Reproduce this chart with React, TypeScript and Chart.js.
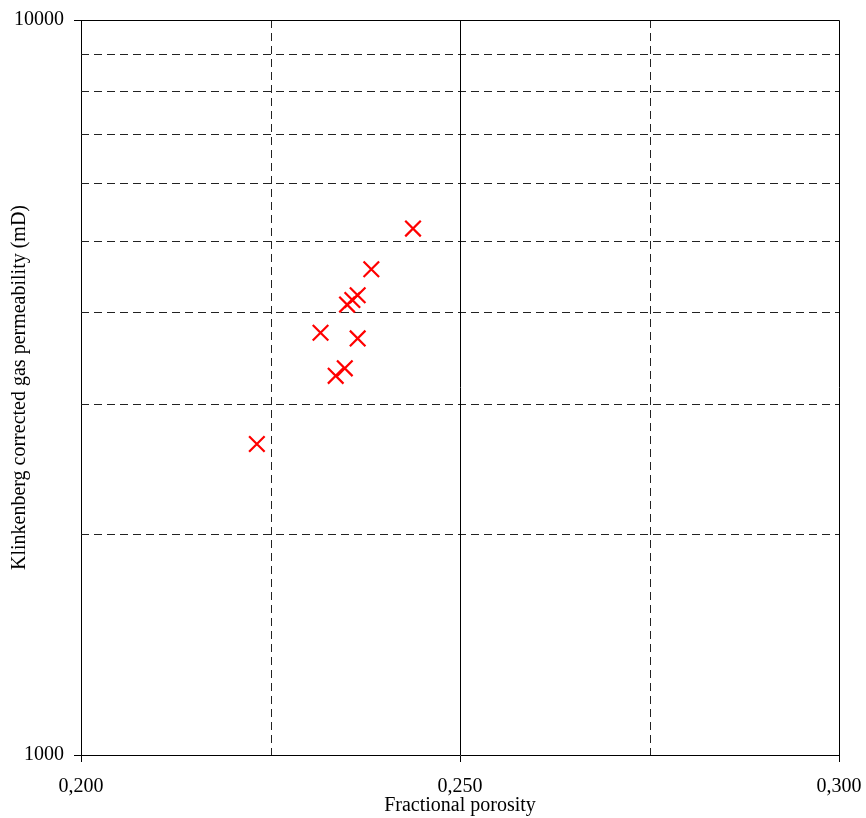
import React, { useEffect, useRef } from "react";
import { Chart, registerables } from "chart.js";

Chart.register(...registerables);

const POROSITY = [0.2232, 0.2316, 0.2336, 0.2348, 0.2351, 0.2358, 0.2365, 0.2365, 0.2383, 0.2438];
const PERMEABILITY = [2649, 3754, 3280, 3358, 4100, 4160, 4222, 3688, 4580, 5202];

const X_TICKS = [0.2, 0.25, 0.3];
const Y_TICKS = [1000, 10000];
const X_DASHED_GRID = [0.225, 0.275];
const X_SOLID_GRID = [0.25];
const Y_DASHED_GRID = [2000, 3000, 4000, 5000, 6000, 7000, 8000, 9000];

const X_TITLE = "Fractional porosity";
const Y_TITLE = "Klinkenberg corrected gas permeability (mD)";

const FONT = "'Liberation Serif', 'Times New Roman', serif";

const gridPlugin = {
  id: "customGrid",
  beforeDatasetsDraw(chart: any) {
    const { ctx, chartArea, scales } = chart;
    const xs = scales.x;
    const ys = scales.y;
    const al = (v: number) => Math.round(v) + 0.5;
    ctx.save();
    ctx.lineWidth = 1;
    ctx.strokeStyle = "#222";
    ctx.setLineDash([8, 5]);
    for (const v of Y_DASHED_GRID) {
      const y = al(ys.getPixelForValue(v));
      ctx.beginPath();
      ctx.moveTo(chartArea.left, y);
      ctx.lineTo(chartArea.right, y);
      ctx.stroke();
    }
    for (const v of X_DASHED_GRID) {
      const x = al(xs.getPixelForValue(v));
      ctx.beginPath();
      ctx.moveTo(x, chartArea.top);
      ctx.lineTo(x, chartArea.bottom);
      ctx.stroke();
    }
    ctx.setLineDash([]);
    ctx.strokeStyle = "#000";
    for (const v of X_SOLID_GRID) {
      const x = al(xs.getPixelForValue(v));
      ctx.beginPath();
      ctx.moveTo(x, chartArea.top);
      ctx.lineTo(x, chartArea.bottom);
      ctx.stroke();
    }
    // top and right border
    const top = al(ys.getPixelForValue(10000));
    const right = al(xs.getPixelForValue(0.3));
    ctx.beginPath();
    ctx.moveTo(chartArea.left, top);
    ctx.lineTo(right, top);
    ctx.lineTo(right, chartArea.bottom);
    ctx.stroke();
    ctx.restore();
  },
};

export default function App() {
  const ref = useRef<HTMLCanvasElement | null>(null);
  useEffect(() => {
    if (!ref.current) return;
    const chart = new Chart(ref.current, {
      type: "scatter",
      data: {
        datasets: [
          {
            data: POROSITY.map((x, i) => ({ x, y: PERMEABILITY[i] })),
            pointStyle: "crossRot",
            pointRadius: 11,
            pointBorderWidth: 2.2,
            borderColor: "#ff0000",
            backgroundColor: "#ff0000",
          },
        ],
      },
      options: {
        animation: false,
        responsive: false,
        maintainAspectRatio: false,
        layout: { padding: { left: 0, top: 20, right: 27, bottom: 0 } },
        plugins: { legend: { display: false }, tooltip: { enabled: false } },
        scales: {
          x: {
            type: "linear",
            min: 0.2,
            max: 0.3,
            afterBuildTicks: (s: any) => {
              s.ticks = X_TICKS.map((v) => ({ value: v }));
            },
            afterFit: (s: any) => {
              s.height = 63;
              s.paddingLeft = 0;
              s.paddingRight = 0;
            },
            ticks: {
              color: "#000",
              font: { family: FONT, size: 20 },
              padding: 13,
              maxRotation: 0,
              callback: (v: any) => Number(v).toFixed(3).replace(".", ","),
            },
            grid: { drawOnChartArea: false, drawTicks: true, tickLength: 7, color: "#000" },
            border: { display: true, color: "#000", width: 1 },
            title: {
              display: true,
              text: X_TITLE,
              color: "#000",
              font: { family: FONT, size: 20 },
              padding: { top: 0, bottom: 0 },
            },
          },
          y: {
            type: "logarithmic",
            min: 1000,
            max: 10000,
            afterBuildTicks: (s: any) => {
              s.ticks = Y_TICKS.map((v) => ({ value: v }));
            },
            afterFit: (s: any) => {
              s.width = 81;
              s.paddingTop = 0;
              s.paddingBottom = 0;
            },
            ticks: {
              color: "#000",
              font: { family: FONT, size: 20 },
              padding: 10,
              callback: (v: any) => String(v),
            },
            grid: { drawOnChartArea: false, drawTicks: true, tickLength: 7, color: "#000" },
            border: { display: true, color: "#000", width: 1 },
            title: {
              display: true,
              text: Y_TITLE,
              color: "#000",
              font: { family: FONT, size: 20 },
              padding: { top: 8, bottom: 0 },
            },
          },
        },
      },
      plugins: [gridPlugin],
    });
    return () => chart.destroy();
  }, []);
  return (
    <div style={{ position: "absolute", left: 0, top: 0, width: 866, height: 818, background: "#fff" }}>
      <canvas ref={ref} width={866} height={818} style={{ width: 866, height: 818 }} />
    </div>
  );
}
